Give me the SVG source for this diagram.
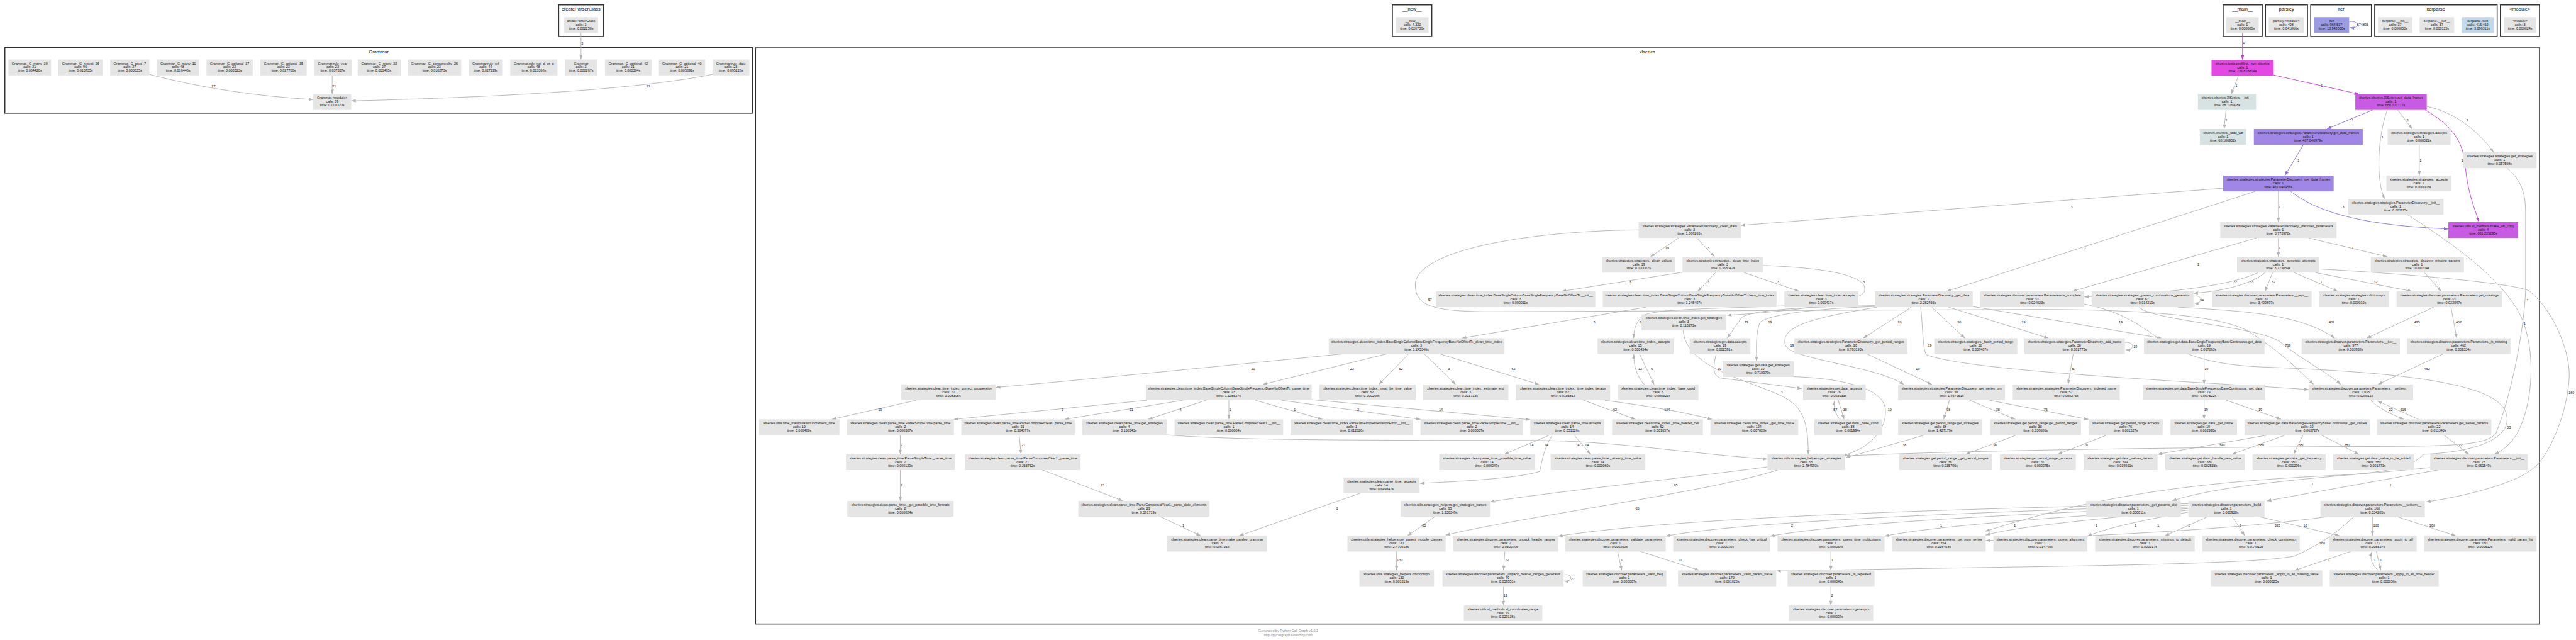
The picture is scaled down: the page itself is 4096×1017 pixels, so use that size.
<svg xmlns="http://www.w3.org/2000/svg" width="4096" height="1017" viewBox="0 0 4096 1017">
<defs>
<style>
text{font-family:"Liberation Sans",Arial,sans-serif}
.t{font-size:10.6px;fill:#111;text-anchor:middle}
.ct{font-size:14.6px;fill:#111;text-anchor:middle}
.cl{fill:#fff;stroke:#333;stroke-width:3}
.n{fill:#e5e5e5}
.m1{fill:#e447e4}
.m2{fill:#c95ae4}
.p{fill:#a086e6}
.b1{fill:#d7e2e3}
.b2{fill:#c3d9e9}
.it{fill:#9b9be3}
.e{fill:none;stroke:#b3b3b3;stroke-width:1.8;marker-end:url(#ag)}
.em{stroke:#c040c8;marker-end:url(#am)}
.ep{stroke:#8d6fd3;marker-end:url(#ap)}
.ei{stroke:#8585cc;marker-end:url(#ai)}
.el{font-size:10.6px;fill:#111;text-anchor:middle}
.ft{font-size:10.6px;fill:#8c8c8c;text-anchor:middle}
</style>
<marker id="ag" viewBox="0 0 14 10" refX="14" refY="5" markerWidth="14" markerHeight="10" markerUnits="userSpaceOnUse" orient="auto"><path d="M0,0L14,5L0,10z" fill="#b3b3b3"/></marker>
<marker id="am" viewBox="0 0 14 10" refX="14" refY="5" markerWidth="14" markerHeight="10" markerUnits="userSpaceOnUse" orient="auto"><path d="M0,0L14,5L0,10z" fill="#c040c8"/></marker>
<marker id="ap" viewBox="0 0 14 10" refX="14" refY="5" markerWidth="14" markerHeight="10" markerUnits="userSpaceOnUse" orient="auto"><path d="M0,0L14,5L0,10z" fill="#8d6fd3"/></marker>
<marker id="ai" viewBox="0 0 14 10" refX="14" refY="5" markerWidth="14" markerHeight="10" markerUnits="userSpaceOnUse" orient="auto"><path d="M0,0L14,5L0,10z" fill="#8585cc"/></marker>
</defs>
<rect width="4096" height="1017" fill="#fff"/>
<g transform="scale(0.51380)">
<g id="clusters">
<rect class="cl" x="1729" y="15" width="139" height="98"/><text class="ct" x="1798" y="33">createParserClass</text>
<rect class="cl" x="15" y="147" width="2314" height="203"/><text class="ct" x="1172" y="164.5">Grammar</text>
<rect class="cl" x="4309" y="15" width="122" height="98"/><text class="ct" x="4370" y="33">__new__</text>
<rect class="cl" x="6880" y="15" width="121" height="98"/><text class="ct" x="6940" y="33">__main__</text>
<rect class="cl" x="7011" y="15" width="130" height="98"/><text class="ct" x="7076" y="33">parsley</text>
<rect class="cl" x="7151" y="15" width="188" height="98"/><text class="ct" x="7245" y="33">iter</text>
<rect class="cl" x="7349" y="15" width="379" height="98"/><text class="ct" x="7538" y="33">iterparse</text>
<rect class="cl" x="7738" y="15" width="121" height="98"/><text class="ct" x="7798" y="33">&lt;module&gt;</text>
<rect class="cl" x="2338" y="148" width="5521" height="1782"/><text class="ct" x="5098" y="165">xlseries</text>
</g>
<g id="edges">
<path class="e" d="M1798,102L1798,184"/><text class="el" x="1802" y="138">3</text>
<path class="e" d="M462,230Q700,292 969,308"/><text class="el" x="661" y="270">27</text>
<path class="e" d="M1028,233L1028,291"/><text class="el" x="1034" y="270">21</text>
<path class="e" d="M2205,230Q1900,292 1087,312"/><text class="el" x="2006" y="270">21</text>
<path class="e em" d="M6940,102L6940,185"/><text class="el" x="6944" y="137">1</text>
<path class="e ei" d="M7270,67C7302,62 7306,90 7272,85"/><text class="el" x="7312" y="80">674893</text>
<path class="e" d="M6928,233L6905,291"/><text class="el" x="6921" y="269">1</text>
<path class="e em" d="M7036,232L7300,291"/><text class="el" x="7185" y="268">1</text>
<path class="e" d="M6889,340L6883,399"/><text class="el" x="6890" y="376">1</text>
<path class="e ep" d="M7343,340L7201,399"/><text class="el" x="7281" y="376">1</text>
<path class="e" d="M7420,340L7465,399"/><text class="el" x="7452" y="376">1</text>
<path class="e" d="M7510,329C7610,350 7680,420 7717,471"/><text class="el" x="7636" y="376">1</text>
<path class="e" d="M7388,340C7358,420 7352,560 7380,615"/><text class="el" x="7373" y="429">1</text>
<path class="e em" d="M7505,340C7610,400 7625,460 7630,520C7638,600 7660,650 7672,687"/><text class="el" x="7620" y="501">1</text>
<path class="e ep" d="M7128,448L7071,543"/><text class="el" x="7113" y="501">1</text>
<path class="e" d="M7487,448L7487,543"/><text class="el" x="7491" y="501">1</text>
<path class="e" d="M7051,592L7051,687"/><text class="el" x="7055" y="645">1</text>
<path class="e ep" d="M7089,592C7200,680 7400,700 7577,708"/><text class="el" x="7252" y="645">3</text>
<path class="e" d="M6880,582L5387,697"/><text class="el" x="6411" y="645">3</text>
<path class="e" d="M6979,592L6024,901"/><text class="el" x="6453" y="770">1</text>
<path class="e" d="M7759,520C7805,560 7816,600 7816,660L7816,900C7812,1000 7780,1200 7724,1341C7690,1378 7600,1381 7250,1381C6600,1385 6000,1396 5711,1410"/><text class="el" x="7822" y="932">1</text>
<path class="e" d="M7451,664C7600,760 7740,860 7800,975C7850,1080 7840,1250 7790,1340C7770,1375 7745,1392 7720,1405"/><text class="el" x="7813" y="1004">1</text>
<path class="e" d="M7051,736L7051,794"/><text class="el" x="7055" y="771">1</text>
<path class="e" d="M7145,736L7388,794"/><text class="el" x="7281" y="771">1</text>
<path class="e" d="M6983,736L6413,901"/><text class="el" x="6803" y="822">1</text>
<path class="e" d="M6988,843C6900,885 6700,908 6450,918"/><text class="el" x="6917" y="875">32</text>
<path class="e" d="M7010,843C6960,885 6860,902 6788,907"/><text class="el" x="6968" y="875">33</text>
<path class="e" d="M7033,843L7010,901"/><text class="el" x="7036" y="875">32</text>
<path class="e" d="M7100,843L7235,901"/><text class="el" x="7184" y="875">1</text>
<path class="e" d="M7165,843L7465,901"/><text class="el" x="7352" y="875">32</text>
<path class="e" d="M7178,832C7500,850 7780,878 7826,899C7905,960 7960,1100 7950,1180C7940,1300 7880,1420 7839,1449C7780,1500 7600,1540 7508,1552"/><text class="el" x="7958" y="1219">160</text>
<path class="e" d="M7503,843L7555,901"/><text class="el" x="7539" y="875">1</text>
<path class="e" d="M6788,916C6818,910 6818,942 6790,937"/><text class="el" x="6814" y="933">34</text>
<path class="e" d="M7531,950L7324,1046"/><text class="el" x="7480" y="1001">495</text>
<path class="e" d="M7585,950L7603,1046"/><text class="el" x="7609" y="1001">462</text>
<path class="e" d="M6740,950C6950,962 7120,972 7226,1046"/><text class="el" x="7216" y="1001">482</text>
<path class="e" d="M6620,950C6660,992 7000,1010 7060,1060C7120,1110 7200,1150 7244,1189"/><text class="el" x="7080" y="1073">769</text>
<path class="e" d="M7560,1095L7359,1189"/><text class="el" x="7511" y="1145">462</text>
<path class="e" d="M7337,1238C7360,1262 7400,1282 7440,1297"/><text class="el" x="7399" y="1271">22</text>
<path class="e" d="M7485,1297L7357,1240"/><text class="el" x="7437" y="1271">616</text>
<path class="e" d="M7564,1346L7641,1405"/><text class="el" x="7615" y="1379">22</text>
<path class="e" d="M7548,1453L7015,1549"/><text class="el" x="7398" y="1504">1</text>
<path class="e" d="M7521,1446C7300,1470 6900,1490 6722,1549"/><text class="el" x="7156" y="1500">1</text>
<path class="e" d="M6449,940C6700,990 6650,1120 7000,1135C7400,1150 7700,1180 7750,1265C7785,1330 7720,1395 7500,1405C7470,1440 7400,1460 7250,1469C6800,1490 6500,1530 6144,1643"/><text class="el" x="7764" y="1325">33</text>
<path class="e" d="M6772,1558C6000,1575 5200,1600 4822,1658"/><text class="el" x="5546" y="1630">2</text>
<path class="e" d="M6772,1563C6100,1585 5400,1612 5155,1658"/><text class="el" x="6007" y="1630">1</text>
<path class="e" d="M6772,1568C6200,1592 5700,1618 5478,1658"/><text class="el" x="6235" y="1630">1</text>
<path class="e" d="M6772,1573C6400,1598 6000,1624 5832,1658"/><text class="el" x="6488" y="1630">1</text>
<path class="e" d="M6772,1578C6550,1600 6250,1625 6145,1655"/><text class="el" x="6609" y="1630">1</text>
<path class="e" d="M6772,1584C6650,1605 6520,1632 6460,1658"/><text class="el" x="6679" y="1630">1</text>
<path class="e" d="M6835,1597L6700,1657"/><text class="el" x="6774" y="1630">1</text>
<path class="e" d="M6907,1597L6947,1657"/><text class="el" x="6933" y="1630">1</text>
<path class="e" d="M6988,1597L7240,1657"/><text class="el" x="7134" y="1630">10</text>
<path class="e" d="M7211,1597C6900,1640 6500,1655 6145,1672"/><text class="el" x="7048" y="1630">320</text>
<path class="e" d="M7286,1597C7230,1650 7170,1690 7100,1720C6950,1750 6200,1752 5497,1766"/><text class="el" x="7186" y="1684">160</text>
<path class="e" d="M7342,1597L7342,1657"/><text class="el" x="7353" y="1630">160</text>
<path class="e" d="M7415,1597L7600,1657"/><text class="el" x="7527" y="1630">160</text>
<path class="e" d="M7276,1705L7100,1765"/><text class="el" x="7207" y="1737">1</text>
<path class="e" d="M7354,1705L7368,1764"/><text class="el" x="7368" y="1737">1</text>
<path class="e" d="M7360,1764C7338,1745 7334,1725 7340,1707"/><text class="el" x="7349" y="1737">1</text>
<path class="e" d="M5006,1705L5019,1764"/><text class="el" x="5019" y="1737">1</text>
<path class="e" d="M5076,1705L5259,1764"/><text class="el" x="5199" y="1737">10</text>
<path class="e" d="M5666,1705L5666,1764"/><text class="el" x="5670" y="1737">1</text>
<path class="e" d="M5666,1813L5666,1872"/><text class="el" x="5670" y="1845">2</text>
<path class="e" d="M4657,1705L4653,1764"/><text class="el" x="4664" y="1737">22</text>
<path class="e" d="M4839,1778C4868,1772 4868,1802 4841,1797"/><text class="el" x="4867" y="1795">27</text>
<path class="e" d="M4653,1813L4653,1872"/><text class="el" x="4659" y="1845">19</text>
<path class="e" d="M4322,1705L4322,1764"/><text class="el" x="4332" y="1737">130</text>
<path class="e" d="M4442,1597L4356,1657"/><text class="el" x="4407" y="1630">65</text>
<path class="e" d="M5470,1444C5200,1480 4800,1522 4611,1552"/><text class="el" x="5186" y="1504">65</text>
<path class="e" d="M5503,1453C5300,1520 4700,1600 4474,1655"/><text class="el" x="5067" y="1576">65</text>
<path class="e" d="M4211,1525L3835,1657"/><text class="el" x="4139" y="1576">2</text>
<path class="e" d="M3589,1597L3716,1657"/><text class="el" x="3662" y="1630">1</text>
<path class="e" d="M3225,1453L3475,1549"/><text class="el" x="3413" y="1504">21</text>
<path class="e" d="M3154,1346L3160,1405"/><text class="el" x="3167" y="1379">21</text>
<path class="e" d="M2786,1346L2786,1405"/><text class="el" x="2790" y="1379">2</text>
<path class="e" d="M2786,1453L2786,1549"/><text class="el" x="2790" y="1504">2</text>
<path class="e" d="M2835,1238L2574,1297"/><text class="el" x="2724" y="1271">19</text>
<path class="e" d="M3550,1238L2952,1297"/><text class="el" x="3288" y="1271">2</text>
<path class="e" d="M3661,1238L3294,1297"/><text class="el" x="3501" y="1271">21</text>
<path class="e" d="M3732,1238L3553,1297"/><text class="el" x="3653" y="1271">4</text>
<path class="e" d="M3803,1238L3803,1297"/><text class="el" x="3807" y="1271">1</text>
<path class="e" d="M3885,1238L4093,1297"/><text class="el" x="4007" y="1271">1</text>
<path class="e" d="M3966,1238L4396,1297"/><text class="el" x="4203" y="1271">2</text>
<path class="e" d="M4059,1236L4736,1298"/><text class="el" x="4459" y="1271">14</text>
<path class="e" d="M3611,1345C3800,1360 4100,1362 4750,1362C5000,1364 5200,1400 5470,1420"/><text class="el" x="4885" y="1379">4</text>
<path class="e" d="M4795,1346L4655,1405"/><text class="el" x="4740" y="1379">14</text>
<path class="e" d="M4804,1346C4775,1390 4770,1440 4765,1458C4700,1480 4500,1490 4394,1495"/><text class="el" x="4786" y="1379">14</text>
<path class="e" d="M4872,1346L4922,1405"/><text class="el" x="4911" y="1379">14</text>
<path class="e" d="M4152,1095C3800,1130 3300,1180 3082,1198"/><text class="el" x="3878" y="1145">20</text>
<path class="e" d="M4290,1095L3908,1189"/><text class="el" x="4184" y="1145">23</text>
<path class="e" d="M4359,1095L4267,1189"/><text class="el" x="4335" y="1145">62</text>
<path class="e" d="M4408,1095L4505,1189"/><text class="el" x="4484" y="1145">3</text>
<path class="e" d="M4457,1095L4763,1189"/><text class="el" x="4684" y="1145">62</text>
<path class="e" d="M4901,1238L5062,1297"/><text class="el" x="4998" y="1271">62</text>
<path class="e" d="M4966,1238C5100,1256 5200,1272 5299,1297"/><text class="el" x="5159" y="1271">124</text>
<path class="e" d="M5074,1095L5119,1189"/><text class="el" x="5112" y="1145">6</text>
<path class="e" d="M5089,1189C5062,1160 5056,1125 5056,1095"/><text class="el" x="5076" y="1145">12</text>
<path class="e" d="M5094,950L4524,1046"/><text class="el" x="4934" y="1000">3</text>
<path class="e" d="M5522,946C5300,955 5100,955 5080,980C5062,1000 5056,1020 5056,1046"/><text class="el" x="5076" y="1000">3</text>
<path class="e" d="M5309,843L5254,901"/><text class="el" x="5287" y="875">3</text>
<path class="e" d="M5397,843L5568,901"/><text class="el" x="5503" y="875">3</text>
<path class="e" d="M5207,842L4833,901"/><text class="el" x="5045" y="875">3</text>
<path class="e" d="M5456,821C5700,830 5780,862 5770,900C5760,940 5500,966 5345,975"/><text class="el" x="5768" y="875">3</text>
<path class="e" d="M5195,736L5108,794"/><text class="el" x="5159" y="771">19</text>
<path class="e" d="M5251,736L5306,794"/><text class="el" x="5287" y="771">3</text>
<path class="e" d="M5071,711C4700,715 4380,780 4380,880C4380,945 4430,962 4600,964L6300,957C6600,957 6850,972 6950,1020C7050,1080 7120,1150 7160,1189"/><text class="el" x="4425" y="930">67</text>
<path class="e" d="M5802,945C5550,950 5420,960 5390,982L5345,1046"/><text class="el" x="5405" y="1000">19</text>
<path class="e" d="M5802,948C5600,955 5460,975 5445,1000C5432,1040 5436,1090 5436,1117"/><text class="el" x="5478" y="1000">19</text>
<path class="e" d="M5808,950C5600,985 5510,1010 5525,1067C5540,1112 5800,1130 5892,1189"/><text class="el" x="5546" y="1073">19</text>
<path class="e" d="M5915,950L5766,1046"/><text class="el" x="5879" y="1000">20</text>
<path class="e" d="M5978,950L6081,1046"/><text class="el" x="6063" y="1000">38</text>
<path class="e" d="M6030,950L6340,1046"/><text class="el" x="6262" y="1000">19</text>
<path class="e" d="M6105,948L6690,1046"/><text class="el" x="6563" y="1000">19</text>
<path class="e" d="M5944,950C5950,1000 5950,1080 5961,1097C6100,1150 6800,1180 7145,1205"/><text class="el" x="5972" y="1073">19</text>
<path class="e" d="M6576,1059C6606,1056 6608,1084 6579,1082"/><text class="el" x="6608" y="1077">19</text>
<path class="e" d="M6416,1095L6400,1189"/><text class="el" x="6418" y="1145">57</text>
<path class="e" d="M6821,1095L6821,1189"/><text class="el" x="6828" y="1145">19</text>
<path class="e" d="M5311,1095C5300,1140 5300,1165 5330,1170C5450,1185 5530,1195 5576,1202"/><text class="el" x="5321" y="1145">19</text>
<path class="e" d="M5551,1165C5700,1170 5830,1200 5835,1267C5840,1350 5750,1400 5702,1408"/><text class="el" x="5848" y="1271">19</text>
<path class="e" d="M5209,1021C5215,1120 5350,1160 5480,1210C5570,1245 5596,1280 5596,1405"/><text class="el" x="5514" y="1217">3</text>
<path class="e" d="M5689,1238L5707,1297"/><text class="el" x="5710" y="1271">38</text>
<path class="e" d="M5694,1297C5680,1280 5674,1262 5677,1240"/><text class="el" x="5680" y="1271">57</text>
<path class="e" d="M5778,1095L5979,1189"/><text class="el" x="5935" y="1145">19</text>
<path class="e" d="M6033,1238L6015,1297"/><text class="el" x="6030" y="1271">38</text>
<path class="e" d="M6096,1238L6237,1297"/><text class="el" x="6183" y="1271">38</text>
<path class="e" d="M6157,1238L6463,1297"/><text class="el" x="6331" y="1271">76</text>
<path class="e" d="M5954,1346L5712,1416"/><text class="el" x="5894" y="1379">38</text>
<path class="e" d="M6239,1346L6083,1405"/><text class="el" x="6173" y="1379">38</text>
<path class="e" d="M6519,1346L6368,1405"/><text class="el" x="6456" y="1379">76</text>
<path class="e" d="M6821,1238L6821,1297"/><text class="el" x="6827" y="1271">19</text>
<path class="e" d="M6890,1238L7060,1297"/><text class="el" x="6995" y="1271">19</text>
<path class="e" d="M7015,1346L6677,1405"/><text class="el" x="6876" y="1379">399</text>
<path class="e" d="M7071,1346L6907,1405"/><text class="el" x="6998" y="1379">380</text>
<path class="e" d="M7127,1346L7098,1405"/><text class="el" x="7122" y="1379">380</text>
<path class="e" d="M7185,1346L7300,1405"/><text class="el" x="7263" y="1379">380</text>
</g>
<g id="n_createParserClass"><rect class="n" x="1746" y="53" width="105" height="49"/><text class="t"><tspan x="1798.5" y="68.5">createParserClass</tspan><tspan x="1798.5" y="80">calls: 3</tspan><tspan x="1798.5" y="91.5">time: 0.002250s</tspan></text></g>
<g id="n_new"><rect class="n" x="4320" y="53" width="101" height="49"/><text class="t"><tspan x="4370.5" y="68.5">__new__</tspan><tspan x="4370.5" y="80">calls: 4,320</tspan><tspan x="4370.5" y="91.5">time: 0.020736s</tspan></text></g>
<g id="n_main"><rect class="n" x="6890" y="53" width="100" height="49"/><text class="t"><tspan x="6940" y="68.5">__main__</tspan><tspan x="6940" y="80">calls: 1</tspan><tspan x="6940" y="91.5">time: 0.000000s</tspan></text></g>
<g id="n_parsley"><rect class="n" x="7021" y="53" width="109" height="49"/><text class="t"><tspan x="7075.5" y="68.5">parsley.&lt;module&gt;</tspan><tspan x="7075.5" y="80">calls: 408</tspan><tspan x="7075.5" y="91.5">time: 0.041866s</tspan></text></g>
<g id="n_iter"><rect class="it" x="7162" y="53" width="108" height="49"/><text class="t"><tspan x="7216" y="68.5">iter</tspan><tspan x="7216" y="80">calls: 964,537</tspan><tspan x="7216" y="91.5">time: 18.942060s</tspan></text></g>
<g id="n_iterparse_init"><rect class="n" x="7359" y="53" width="107" height="49"/><text class="t"><tspan x="7412.5" y="68.5">iterparse.__init__</tspan><tspan x="7412.5" y="80">calls: 37</tspan><tspan x="7412.5" y="91.5">time: 0.000850s</tspan></text></g>
<g id="n_iterparse_iter"><rect class="n" x="7488" y="53" width="107" height="49"/><text class="t"><tspan x="7541.5" y="68.5">iterparse.__iter__</tspan><tspan x="7541.5" y="80">calls: 37</tspan><tspan x="7541.5" y="91.5">time: 0.000115s</tspan></text></g>
<g id="n_iterparse_next"><rect class="b2" x="7618" y="53" width="100" height="49"/><text class="t"><tspan x="7668" y="68.5">iterparse.next</tspan><tspan x="7668" y="80">calls: 416,462</tspan><tspan x="7668" y="91.5">time: 3.696311s</tspan></text></g>
<g id="n_module"><rect class="n" x="7749" y="53" width="100" height="49"/><text class="t"><tspan x="7799" y="68.5">&lt;module&gt;</tspan><tspan x="7799" y="80">calls: 3</tspan><tspan x="7799" y="91.5">time: 0.000024s</tspan></text></g>
<g id="g1"><rect class="n" x="26" y="184" width="132" height="49"/><text class="t"><tspan x="92" y="199.5">Grammar._G_many_30</tspan><tspan x="92" y="211">calls: 21</tspan><tspan x="92" y="222.5">time: 0.004420s</tspan></text></g>
<g id="g2"><rect class="n" x="181" y="184" width="137" height="49"/><text class="t"><tspan x="249.5" y="199.5">Grammar._G_repeat_26</tspan><tspan x="249.5" y="211">calls: 90</tspan><tspan x="249.5" y="222.5">time: 0.013735s</tspan></text></g>
<g id="g3"><rect class="n" x="341" y="184" width="121" height="49"/><text class="t"><tspan x="401.5" y="199.5">Grammar._G_pred_7</tspan><tspan x="401.5" y="211">calls: 27</tspan><tspan x="401.5" y="222.5">time: 0.003035s</tspan></text></g>
<g id="g4"><rect class="n" x="485" y="184" width="132" height="49"/><text class="t"><tspan x="551" y="199.5">Grammar._G_many_11</tspan><tspan x="551" y="211">calls: 48</tspan><tspan x="551" y="222.5">time: 0.016446s</tspan></text></g>
<g id="g5"><rect class="n" x="639" y="184" width="143" height="49"/><text class="t"><tspan x="710.5" y="199.5">Grammar._G_optional_37</tspan><tspan x="710.5" y="211">calls: 23</tspan><tspan x="710.5" y="222.5">time: 0.000323s</tspan></text></g>
<g id="g6"><rect class="n" x="806" y="184" width="143" height="49"/><text class="t"><tspan x="877.5" y="199.5">Grammar._G_optional_35</tspan><tspan x="877.5" y="211">calls: 23</tspan><tspan x="877.5" y="222.5">time: 0.027700s</tspan></text></g>
<g id="g7"><rect class="n" x="971" y="184" width="117" height="49"/><text class="t"><tspan x="1029.5" y="199.5">Grammar.rule_year</tspan><tspan x="1029.5" y="211">calls: 23</tspan><tspan x="1029.5" y="222.5">time: 0.037327s</tspan></text></g>
<g id="g8"><rect class="n" x="1107" y="184" width="133" height="49"/><text class="t"><tspan x="1173.5" y="199.5">Grammar._G_many_22</tspan><tspan x="1173.5" y="211">calls: 27</tspan><tspan x="1173.5" y="222.5">time: 0.001465s</tspan></text></g>
<g id="g9"><rect class="n" x="1262" y="184" width="165" height="49"/><text class="t"><tspan x="1344.5" y="199.5">Grammar._G_consumedby_25</tspan><tspan x="1344.5" y="211">calls: 23</tspan><tspan x="1344.5" y="222.5">time: 0.018273s</tspan></text></g>
<g id="g10"><rect class="n" x="1450" y="184" width="106" height="49"/><text class="t"><tspan x="1503" y="199.5">Grammar.rule_ref</tspan><tspan x="1503" y="211">calls: 44</tspan><tspan x="1503" y="222.5">time: 0.027219s</tspan></text></g>
<g id="g11"><rect class="n" x="1579" y="184" width="146" height="49"/><text class="t"><tspan x="1652" y="199.5">Grammar.rule_not_d_or_p</tspan><tspan x="1652" y="211">calls: 48</tspan><tspan x="1652" y="222.5">time: 0.013368s</tspan></text></g>
<g id="g12"><rect class="n" x="1748" y="184" width="101" height="49"/><text class="t"><tspan x="1798.5" y="199.5">Grammar</tspan><tspan x="1798.5" y="211">calls: 3</tspan><tspan x="1798.5" y="222.5">time: 0.000267s</tspan></text></g>
<g id="g13"><rect class="n" x="1872" y="184" width="144" height="49"/><text class="t"><tspan x="1944" y="199.5">Grammar._G_optional_42</tspan><tspan x="1944" y="211">calls: 21</tspan><tspan x="1944" y="222.5">time: 0.000304s</tspan></text></g>
<g id="g14"><rect class="n" x="2039" y="184" width="143" height="49"/><text class="t"><tspan x="2110.5" y="199.5">Grammar._G_optional_40</tspan><tspan x="2110.5" y="211">calls: 21</tspan><tspan x="2110.5" y="222.5">time: 0.005891s</tspan></text></g>
<g id="g15"><rect class="n" x="2205" y="184" width="114" height="49"/><text class="t"><tspan x="2262" y="199.5">Grammar.rule_date</tspan><tspan x="2262" y="211">calls: 23</tspan><tspan x="2262" y="222.5">time: 0.095128s</tspan></text></g>
<g id="g16"><rect class="n" x="969" y="291" width="118" height="49"/><text class="t"><tspan x="1028" y="306.5">Grammar.&lt;module&gt;</tspan><tspan x="1028" y="318">calls: 69</tspan><tspan x="1028" y="329.5">time: 0.000320s</tspan></text></g>
<g id="x1"><rect class="m1" x="6844" y="185" width="192" height="49"/><text class="t"><tspan x="6940" y="200.5">xlseries.tests.profiling._run_xlseries</tspan><tspan x="6940" y="212">calls: 1</tspan><tspan x="6940" y="223.5">time: 736.878804s</tspan></text></g>
<g id="x2"><rect class="b1" x="6802" y="291" width="180" height="49"/><text class="t"><tspan x="6892" y="306.5">xlseries.xlseries.XlSeries.__init__</tspan><tspan x="6892" y="318">calls: 1</tspan><tspan x="6892" y="329.5">time: 68.106978s</tspan></text></g>
<g id="x3"><rect class="m2" x="7289" y="291" width="221" height="49"/><text class="t"><tspan x="7399.5" y="306.5">xlseries.xlseries.XlSeries.get_data_frames</tspan><tspan x="7399.5" y="318">calls: 1</tspan><tspan x="7399.5" y="329.5">time: 668.771777s</tspan></text></g>
<g id="x4"><rect class="b1" x="6808" y="399" width="144" height="49"/><text class="t"><tspan x="6880" y="414.5">xlseries.xlseries._load_wb</tspan><tspan x="6880" y="426">calls: 1</tspan><tspan x="6880" y="437.5">time: 68.106952s</tspan></text></g>
<g id="x5"><rect class="p" x="6975" y="399" width="337" height="49"/><text class="t"><tspan x="7143.5" y="414.5">xlseries.strategies.strategies.ParameterDiscovery.get_data_frames</tspan><tspan x="7143.5" y="426">calls: 1</tspan><tspan x="7143.5" y="437.5">time: 467.046979s</tspan></text></g>
<g id="x6"><rect class="n" x="7389" y="399" width="195" height="49"/><text class="t"><tspan x="7486.5" y="414.5">xlseries.strategies.strategies.accepts</tspan><tspan x="7486.5" y="426">calls: 1</tspan><tspan x="7486.5" y="437.5">time: 0.000022s</tspan></text></g>
<g id="x7"><rect class="n" x="7622" y="471" width="228" height="49"/><text class="t"><tspan x="7736" y="486.5">xlseries.strategies.strategies.get_strategies</tspan><tspan x="7736" y="498">calls: 1</tspan><tspan x="7736" y="509.5">time: 0.057598s</tspan></text></g>
<g id="x8"><rect class="n" x="7385" y="543" width="201" height="49"/><text class="t"><tspan x="7485.5" y="558.5">xlseries.strategies.strategies._accepts</tspan><tspan x="7485.5" y="570">calls: 1</tspan><tspan x="7485.5" y="581.5">time: 0.000003s</tspan></text></g>
<g id="x9"><rect class="p" x="6880" y="543" width="342" height="49"/><text class="t"><tspan x="7051" y="558.5">xlseries.strategies.strategies.ParameterDiscovery._get_data_frames</tspan><tspan x="7051" y="570">calls: 1</tspan><tspan x="7051" y="581.5">time: 467.046956s</tspan></text></g>
<g id="x10"><rect class="n" x="7267" y="615" width="295" height="49"/><text class="t"><tspan x="7414.5" y="630.5">xlseries.strategies.strategies.ParameterDiscovery.__init__</tspan><tspan x="7414.5" y="642">calls: 1</tspan><tspan x="7414.5" y="653.5">time: 0.061115s</tspan></text></g>
<g id="x11"><rect class="m2" x="7577" y="687" width="216" height="49"/><text class="t"><tspan x="7685" y="702.5">xlseries.utils.xl_methods.make_wb_copy</tspan><tspan x="7685" y="714">calls: 4</tspan><tspan x="7685" y="725.5">time: 661.229295s</tspan></text></g>
<g id="x12"><rect class="n" x="6871" y="687" width="360" height="49"/><text class="t"><tspan x="7051" y="702.5">xlseries.strategies.strategies.ParameterDiscovery._discover_parameters</tspan><tspan x="7051" y="714">calls: 1</tspan><tspan x="7051" y="725.5">time: 3.773978s</tspan></text></g>
<g id="x13"><rect class="n" x="5071" y="687" width="316" height="49"/><text class="t"><tspan x="5229" y="702.5">xlseries.strategies.strategies.ParameterDiscovery._clean_data</tspan><tspan x="5229" y="714">calls: 3</tspan><tspan x="5229" y="725.5">time: 1.366263s</tspan></text></g>
<g id="x14"><rect class="n" x="6923" y="794" width="255" height="49"/><text class="t"><tspan x="7050.5" y="809.5">xlseries.strategies.strategies._generate_attempts</tspan><tspan x="7050.5" y="821">calls: 1</tspan><tspan x="7050.5" y="832.5">time: 3.773039s</tspan></text></g>
<g id="x15"><rect class="n" x="7337" y="794" width="288" height="49"/><text class="t"><tspan x="7481" y="809.5">xlseries.strategies.strategies._discover_missing_params</tspan><tspan x="7481" y="821">calls: 1</tspan><tspan x="7481" y="832.5">time: 0.000704s</tspan></text></g>
<g id="x16"><rect class="n" x="4959" y="794" width="225" height="49"/><text class="t"><tspan x="5071.5" y="809.5">xlseries.strategies.strategies._clean_values</tspan><tspan x="5071.5" y="821">calls: 19</tspan><tspan x="5071.5" y="832.5">time: 0.000067s</tspan></text></g>
<g id="x17"><rect class="n" x="5207" y="794" width="249" height="49"/><text class="t"><tspan x="5331.5" y="809.5">xlseries.strategies.strategies._clean_time_index</tspan><tspan x="5331.5" y="821">calls: 3</tspan><tspan x="5331.5" y="832.5">time: 1.363042s</tspan></text></g>
<g id="x18"><rect class="n" x="4444" y="901" width="493" height="49"/><text class="t"><tspan x="4690.5" y="916.5">xlseries.strategies.clean.time_index.BaseSingleColumnBaseSingleFrequencyBaseNoOffsetTi.__init__</tspan><tspan x="4690.5" y="928">calls: 3</tspan><tspan x="4690.5" y="939.5">time: 0.000011s</tspan></text></g>
<g id="x19"><rect class="n" x="4960" y="901" width="538" height="49"/><text class="t"><tspan x="5229" y="916.5">xlseries.strategies.clean.time_index.BaseSingleColumnBaseSingleFrequencyBaseNoOffsetTi.clean_time_index</tspan><tspan x="5229" y="928">calls: 3</tspan><tspan x="5229" y="939.5">time: 1.245407s</tspan></text></g>
<g id="x20"><rect class="n" x="5522" y="901" width="229" height="49"/><text class="t"><tspan x="5636.5" y="916.5">xlseries.strategies.clean.time_index.accepts</tspan><tspan x="5636.5" y="928">calls: 3</tspan><tspan x="5636.5" y="939.5">time: 0.000417s</tspan></text></g>
<g id="x21"><rect class="n" x="5802" y="901" width="303" height="49"/><text class="t"><tspan x="5953.5" y="916.5">xlseries.strategies.strategies.ParameterDiscovery._get_data</tspan><tspan x="5953.5" y="928">calls: 1</tspan><tspan x="5953.5" y="939.5">time: 2.282466s</tspan></text></g>
<g id="x22"><rect class="n" x="6129" y="901" width="321" height="49"/><text class="t"><tspan x="6289.5" y="916.5">xlseries.strategies.discover.parameters.Parameters.is_complete</tspan><tspan x="6289.5" y="928">calls: 33</tspan><tspan x="6289.5" y="939.5">time: 0.024023s</tspan></text></g>
<g id="x23"><rect class="n" x="6473" y="901" width="315" height="49"/><text class="t"><tspan x="6630.5" y="916.5">xlseries.strategies.strategies._param_combinations_generator</tspan><tspan x="6630.5" y="928">calls: 67</tspan><tspan x="6630.5" y="939.5">time: 0.014210s</tspan></text></g>
<g id="x24"><rect class="n" x="6846" y="901" width="308" height="49"/><text class="t"><tspan x="7000" y="916.5">xlseries.strategies.discover.parameters.Parameters.__repr__</tspan><tspan x="7000" y="928">calls: 32</tspan><tspan x="7000" y="939.5">time: 3.499697s</tspan></text></g>
<g id="x25"><rect class="n" x="7176" y="901" width="218" height="49"/><text class="t"><tspan x="7285" y="916.5">xlseries.strategies.strategies.&lt;dictcomp&gt;</tspan><tspan x="7285" y="928">calls: 1</tspan><tspan x="7285" y="939.5">time: 0.000010s</tspan></text></g>
<g id="x26"><rect class="n" x="7417" y="901" width="326" height="49"/><text class="t"><tspan x="7580" y="916.5">xlseries.strategies.discover.parameters.Parameters.get_missings</tspan><tspan x="7580" y="928">calls: 33</tspan><tspan x="7580" y="939.5">time: 0.022997s</tspan></text></g>
<g id="x27"><rect class="n" x="5080" y="972" width="262" height="49"/><text class="t"><tspan x="5211" y="987.5">xlseries.strategies.clean.time_index.get_strategies</tspan><tspan x="5211" y="999">calls: 3</tspan><tspan x="5211" y="1010.5">time: 0.116971s</tspan></text></g>
<g id="x28"><rect class="n" x="4112" y="1046" width="544" height="49"/><text class="t"><tspan x="4384" y="1061.5">xlseries.strategies.clean.time_index.BaseSingleColumnBaseSingleFrequencyBaseNoOffsetTi._clean_time_index</tspan><tspan x="4384" y="1073">calls: 3</tspan><tspan x="4384" y="1084.5">time: 1.245346s</tspan></text></g>
<g id="x29"><rect class="n" x="4944" y="1046" width="235" height="49"/><text class="t"><tspan x="5061.5" y="1061.5">xlseries.strategies.clean.time_index._accepts</tspan><tspan x="5061.5" y="1073">calls: 15</tspan><tspan x="5061.5" y="1084.5">time: 0.000454s</tspan></text></g>
<g id="x30"><rect class="n" x="5229" y="1046" width="188" height="49"/><text class="t"><tspan x="5323" y="1061.5">xlseries.strategies.get.data.accepts</tspan><tspan x="5323" y="1073">calls: 19</tspan><tspan x="5323" y="1084.5">time: 0.002591s</tspan></text></g>
<g id="x31"><rect class="n" x="5553" y="1046" width="350" height="49"/><text class="t"><tspan x="5728" y="1061.5">xlseries.strategies.strategies.ParameterDiscovery._get_period_ranges</tspan><tspan x="5728" y="1073">calls: 20</tspan><tspan x="5728" y="1084.5">time: 0.703193s</tspan></text></g>
<g id="x32"><rect class="n" x="5986" y="1046" width="257" height="49"/><text class="t"><tspan x="6114.5" y="1061.5">xlseries.strategies.strategies._hash_period_range</tspan><tspan x="6114.5" y="1073">calls: 38</tspan><tspan x="6114.5" y="1084.5">time: 0.007407s</tspan></text></g>
<g id="x33"><rect class="n" x="6265" y="1046" width="311" height="49"/><text class="t"><tspan x="6420.5" y="1061.5">xlseries.strategies.strategies.ParameterDiscovery._add_name</tspan><tspan x="6420.5" y="1073">calls: 38</tspan><tspan x="6420.5" y="1084.5">time: 0.002775s</tspan></text></g>
<g id="x34"><rect class="n" x="6635" y="1046" width="373" height="49"/><text class="t"><tspan x="6821.5" y="1061.5">xlseries.strategies.get.data.BaseSingleFrequencyBaseContinuous.get_data</tspan><tspan x="6821.5" y="1073">calls: 19</tspan><tspan x="6821.5" y="1084.5">time: 0.067863s</tspan></text></g>
<g id="x35"><rect class="n" x="7123" y="1046" width="304" height="49"/><text class="t"><tspan x="7275" y="1061.5">xlseries.strategies.discover.parameters.Parameters.__iter__</tspan><tspan x="7275" y="1073">calls: 977</tspan><tspan x="7275" y="1084.5">time: 0.003938s</tspan></text></g>
<g id="x36"><rect class="n" x="7449" y="1046" width="320" height="49"/><text class="t"><tspan x="7609" y="1061.5">xlseries.strategies.discover.parameters.Parameters._is_missing</tspan><tspan x="7609" y="1073">calls: 462</tspan><tspan x="7609" y="1084.5">time: 0.009334s</tspan></text></g>
<g id="x37"><rect class="n" x="5331" y="1117" width="220" height="49"/><text class="t"><tspan x="5441" y="1132.5">xlseries.strategies.get.data.get_strategies</tspan><tspan x="5441" y="1144">calls: 19</tspan><tspan x="5441" y="1155.5">time: 0.718979s</tspan></text></g>
<g id="x38"><rect class="n" x="2789" y="1189" width="293" height="49"/><text class="t"><tspan x="2935.5" y="1204.5">xlseries.strategies.clean.time_index._correct_progression</tspan><tspan x="2935.5" y="1216">calls: 20</tspan><tspan x="2935.5" y="1227.5">time: 0.008395s</tspan></text></g>
<g id="x39"><rect class="n" x="3546" y="1189" width="513" height="49"/><text class="t"><tspan x="3802.5" y="1204.5">xlseries.strategies.clean.time_index.BaseSingleColumnBaseSingleFrequencyBaseNoOffsetTi._parse_time</tspan><tspan x="3802.5" y="1216">calls: 23</tspan><tspan x="3802.5" y="1227.5">time: 1.198527s</tspan></text></g>
<g id="x40"><rect class="n" x="4083" y="1189" width="298" height="49"/><text class="t"><tspan x="4232" y="1204.5">xlseries.strategies.clean.time_index._must_be_time_value</tspan><tspan x="4232" y="1216">calls: 62</tspan><tspan x="4232" y="1227.5">time: 0.000269s</tspan></text></g>
<g id="x41"><rect class="n" x="4404" y="1189" width="264" height="49"/><text class="t"><tspan x="4536" y="1204.5">xlseries.strategies.clean.time_index._estimate_end</tspan><tspan x="4536" y="1216">calls: 3</tspan><tspan x="4536" y="1227.5">time: 0.003733s</tspan></text></g>
<g id="x42"><rect class="n" x="4691" y="1189" width="292" height="49"/><text class="t"><tspan x="4837" y="1204.5">xlseries.strategies.clean.time_index._time_index_iterator</tspan><tspan x="4837" y="1216">calls: 62</tspan><tspan x="4837" y="1227.5">time: 0.018381s</tspan></text></g>
<g id="x43"><rect class="n" x="5007" y="1189" width="249" height="49"/><text class="t"><tspan x="5131.5" y="1204.5">xlseries.strategies.clean.time_index._base_cond</tspan><tspan x="5131.5" y="1216">calls: 6</tspan><tspan x="5131.5" y="1227.5">time: 0.000321s</tspan></text></g>
<g id="x44"><rect class="n" x="5580" y="1189" width="194" height="49"/><text class="t"><tspan x="5677" y="1204.5">xlseries.strategies.get.data._accepts</tspan><tspan x="5677" y="1216">calls: 76</tspan><tspan x="5677" y="1227.5">time: 0.003033s</tspan></text></g>
<g id="x45"><rect class="n" x="5874" y="1189" width="331" height="49"/><text class="t"><tspan x="6039.5" y="1204.5">xlseries.strategies.strategies.ParameterDiscovery._get_series_prs</tspan><tspan x="6039.5" y="1216">calls: 38</tspan><tspan x="6039.5" y="1227.5">time: 1.467951s</tspan></text></g>
<g id="x46"><rect class="n" x="6229" y="1189" width="331" height="49"/><text class="t"><tspan x="6394.5" y="1204.5">xlseries.strategies.strategies.ParameterDiscovery._indexed_name</tspan><tspan x="6394.5" y="1216">calls: 57</tspan><tspan x="6394.5" y="1227.5">time: 0.000276s</tspan></text></g>
<g id="x47"><rect class="n" x="6632" y="1189" width="378" height="49"/><text class="t"><tspan x="6821" y="1204.5">xlseries.strategies.get.data.BaseSingleFrequencyBaseContinuous._get_data</tspan><tspan x="6821" y="1216">calls: 19</tspan><tspan x="6821" y="1227.5">time: 0.067522s</tspan></text></g>
<g id="x48"><rect class="n" x="7145" y="1189" width="323" height="49"/><text class="t"><tspan x="7306.5" y="1204.5">xlseries.strategies.discover.parameters.Parameters.__getitem__</tspan><tspan x="7306.5" y="1216">calls: 1,933</tspan><tspan x="7306.5" y="1227.5">time: 0.020011s</tspan></text></g>
<g id="x49"><rect class="n" x="2349" y="1297" width="249" height="49"/><text class="t"><tspan x="2473.5" y="1312.5">xlseries.utils.time_manipulation.increment_time</tspan><tspan x="2473.5" y="1324">calls: 19</tspan><tspan x="2473.5" y="1335.5">time: 0.006480s</tspan></text></g>
<g id="x50"><rect class="n" x="2621" y="1297" width="331" height="49"/><text class="t"><tspan x="2786.5" y="1312.5">xlseries.strategies.clean.parse_time.ParseSimpleTime.parse_time</tspan><tspan x="2786.5" y="1324">calls: 2</tspan><tspan x="2786.5" y="1335.5">time: 0.000307s</tspan></text></g>
<g id="x51"><rect class="n" x="2975" y="1297" width="351" height="49"/><text class="t"><tspan x="3150.5" y="1312.5">xlseries.strategies.clean.parse_time.ParseComposedYear1.parse_time</tspan><tspan x="3150.5" y="1324">calls: 21</tspan><tspan x="3150.5" y="1335.5">time: 0.364377s</tspan></text></g>
<g id="x52"><rect class="n" x="3349" y="1297" width="262" height="49"/><text class="t"><tspan x="3480" y="1312.5">xlseries.strategies.clean.parse_time.get_strategies</tspan><tspan x="3480" y="1324">calls: 4</tspan><tspan x="3480" y="1335.5">time: 0.168543s</tspan></text></g>
<g id="x53"><rect class="n" x="3635" y="1297" width="336" height="49"/><text class="t"><tspan x="3803" y="1312.5">xlseries.strategies.clean.parse_time.ParseComposedYear1.__init__</tspan><tspan x="3803" y="1324">calls: 1</tspan><tspan x="3803" y="1335.5">time: 0.000004s</tspan></text></g>
<g id="x54"><rect class="n" x="3994" y="1297" width="379" height="49"/><text class="t"><tspan x="4183.5" y="1312.5">xlseries.strategies.clean.time_index.ParseTimeImplementationError.__init__</tspan><tspan x="4183.5" y="1324">calls: 1</tspan><tspan x="4183.5" y="1335.5">time: 0.012826s</tspan></text></g>
<g id="x55"><rect class="n" x="4396" y="1297" width="317" height="49"/><text class="t"><tspan x="4554.5" y="1312.5">xlseries.strategies.clean.parse_time.ParseSimpleTime.__init__</tspan><tspan x="4554.5" y="1324">calls: 2</tspan><tspan x="4554.5" y="1335.5">time: 0.000007s</tspan></text></g>
<g id="x56"><rect class="n" x="4736" y="1297" width="229" height="49"/><text class="t"><tspan x="4850.5" y="1312.5">xlseries.strategies.clean.parse_time.accepts</tspan><tspan x="4850.5" y="1324">calls: 14</tspan><tspan x="4850.5" y="1335.5">time: 0.651326s</tspan></text></g>
<g id="x57"><rect class="n" x="4989" y="1297" width="281" height="49"/><text class="t"><tspan x="5129.5" y="1312.5">xlseries.strategies.clean.time_index._time_header_cell</tspan><tspan x="5129.5" y="1324">calls: 62</tspan><tspan x="5129.5" y="1335.5">time: 0.001657s</tspan></text></g>
<g id="x58"><rect class="n" x="5293" y="1297" width="272" height="49"/><text class="t"><tspan x="5429" y="1312.5">xlseries.strategies.clean.time_index._get_time_value</tspan><tspan x="5429" y="1324">calls: 124</tspan><tspan x="5429" y="1335.5">time: 0.007828s</tspan></text></g>
<g id="x59"><rect class="n" x="5615" y="1297" width="209" height="49"/><text class="t"><tspan x="5719.5" y="1312.5">xlseries.strategies.get.data._base_cond</tspan><tspan x="5719.5" y="1324">calls: 38</tspan><tspan x="5719.5" y="1335.5">time: 0.001994s</tspan></text></g>
<g id="x60"><rect class="n" x="5874" y="1297" width="261" height="49"/><text class="t"><tspan x="6004.5" y="1312.5">xlseries.strategies.get.period_range.get_strategies</tspan><tspan x="6004.5" y="1324">calls: 38</tspan><tspan x="6004.5" y="1335.5">time: 1.427179s</tspan></text></g>
<g id="x61"><rect class="n" x="6159" y="1297" width="281" height="49"/><text class="t"><tspan x="6299.5" y="1312.5">xlseries.strategies.get.period_range.get_period_ranges</tspan><tspan x="6299.5" y="1324">calls: 38</tspan><tspan x="6299.5" y="1335.5">time: 0.036606s</tspan></text></g>
<g id="x62"><rect class="n" x="6464" y="1297" width="229" height="49"/><text class="t"><tspan x="6578.5" y="1312.5">xlseries.strategies.get.period_range.accepts</tspan><tspan x="6578.5" y="1324">calls: 76</tspan><tspan x="6578.5" y="1335.5">time: 0.001527s</tspan></text></g>
<g id="x63"><rect class="n" x="6717" y="1297" width="206" height="49"/><text class="t"><tspan x="6820" y="1312.5">xlseries.strategies.get.data._get_name</tspan><tspan x="6820" y="1324">calls: 19</tspan><tspan x="6820" y="1335.5">time: 0.002996s</tspan></text></g>
<g id="x64"><rect class="n" x="6946" y="1297" width="388" height="49"/><text class="t"><tspan x="7140" y="1312.5">xlseries.strategies.get.data.BaseSingleFrequencyBaseContinuous._get_values</tspan><tspan x="7140" y="1324">calls: 19</tspan><tspan x="7140" y="1335.5">time: 0.063727s</tspan></text></g>
<g id="x65"><rect class="n" x="7356" y="1297" width="354" height="49"/><text class="t"><tspan x="7533" y="1312.5">xlseries.strategies.discover.parameters.Parameters.get_series_params</tspan><tspan x="7533" y="1324">calls: 22</tspan><tspan x="7533" y="1335.5">time: 0.011343s</tspan></text></g>
<g id="x66"><rect class="n" x="2618" y="1405" width="337" height="49"/><text class="t"><tspan x="2786.5" y="1420.5">xlseries.strategies.clean.parse_time.ParseSimpleTime._parse_time</tspan><tspan x="2786.5" y="1432">calls: 2</tspan><tspan x="2786.5" y="1443.5">time: 0.000120s</tspan></text></g>
<g id="x67"><rect class="n" x="2986" y="1405" width="358" height="49"/><text class="t"><tspan x="3165" y="1420.5">xlseries.strategies.clean.parse_time.ParseComposedYear1._parse_time</tspan><tspan x="3165" y="1432">calls: 21</tspan><tspan x="3165" y="1443.5">time: 0.363762s</tspan></text></g>
<g id="x68"><rect class="n" x="4454" y="1405" width="296" height="49"/><text class="t"><tspan x="4602" y="1420.5">xlseries.strategies.clean.parse_time._possible_time_value</tspan><tspan x="4602" y="1432">calls: 14</tspan><tspan x="4602" y="1443.5">time: 0.000047s</tspan></text></g>
<g id="x69"><rect class="n" x="4799" y="1405" width="293" height="49"/><text class="t"><tspan x="4945.5" y="1420.5">xlseries.strategies.clean.parse_time._already_time_value</tspan><tspan x="4945.5" y="1432">calls: 14</tspan><tspan x="4945.5" y="1443.5">time: 0.000060s</tspan></text></g>
<g id="x70"><rect class="n" x="5470" y="1405" width="240" height="49"/><text class="t"><tspan x="5590" y="1420.5">xlseries.utils.strategies_helpers.get_strategies</tspan><tspan x="5590" y="1432">calls: 65</tspan><tspan x="5590" y="1443.5">time: 2.484993s</tspan></text></g>
<g id="x71"><rect class="n" x="5877" y="1405" width="288" height="49"/><text class="t"><tspan x="6021" y="1420.5">xlseries.strategies.get.period_range._get_period_ranges</tspan><tspan x="6021" y="1432">calls: 38</tspan><tspan x="6021" y="1443.5">time: 0.035796s</tspan></text></g>
<g id="x72"><rect class="n" x="6189" y="1405" width="235" height="49"/><text class="t"><tspan x="6306.5" y="1420.5">xlseries.strategies.get.period_range._accepts</tspan><tspan x="6306.5" y="1432">calls: 76</tspan><tspan x="6306.5" y="1443.5">time: 0.000275s</tspan></text></g>
<g id="x73"><rect class="n" x="6448" y="1405" width="229" height="49"/><text class="t"><tspan x="6562.5" y="1420.5">xlseries.strategies.get.data._values_iterator</tspan><tspan x="6562.5" y="1432">calls: 399</tspan><tspan x="6562.5" y="1443.5">time: 0.019921s</tspan></text></g>
<g id="x74"><rect class="n" x="6701" y="1405" width="246" height="49"/><text class="t"><tspan x="6824" y="1420.5">xlseries.strategies.get.data._handle_new_value</tspan><tspan x="6824" y="1432">calls: 380</tspan><tspan x="6824" y="1443.5">time: 0.002533s</tspan></text></g>
<g id="x75"><rect class="n" x="6971" y="1405" width="226" height="49"/><text class="t"><tspan x="7084" y="1420.5">xlseries.strategies.get.data._get_frequency</tspan><tspan x="7084" y="1432">calls: 380</tspan><tspan x="7084" y="1443.5">time: 0.001296s</tspan></text></g>
<g id="x76"><rect class="n" x="7220" y="1405" width="251" height="49"/><text class="t"><tspan x="7345.5" y="1420.5">xlseries.strategies.get.data._value_to_be_added</tspan><tspan x="7345.5" y="1432">calls: 380</tspan><tspan x="7345.5" y="1443.5">time: 0.001471s</tspan></text></g>
<g id="x77"><rect class="n" x="7521" y="1405" width="302" height="49"/><text class="t"><tspan x="7672" y="1420.5">xlseries.strategies.discover.parameters.Parameters.__init__</tspan><tspan x="7672" y="1432">calls: 23</tspan><tspan x="7672" y="1443.5">time: 0.061549s</tspan></text></g>
<g id="x78"><rect class="n" x="4158" y="1477" width="235" height="49"/><text class="t"><tspan x="4275.5" y="1492.5">xlseries.strategies.clean.parse_time._accepts</tspan><tspan x="4275.5" y="1504">calls: 14</tspan><tspan x="4275.5" y="1515.5">time: 0.649847s</tspan></text></g>
<g id="x79"><rect class="n" x="2622" y="1549" width="329" height="49"/><text class="t"><tspan x="2786.5" y="1564.5">xlseries.strategies.clean.parse_time._get_possible_time_formats</tspan><tspan x="2786.5" y="1576">calls: 2</tspan><tspan x="2786.5" y="1587.5">time: 0.000024s</tspan></text></g>
<g id="x80"><rect class="n" x="3337" y="1549" width="406" height="49"/><text class="t"><tspan x="3540" y="1564.5">xlseries.strategies.clean.parse_time.ParseComposedYear1._parse_date_elements</tspan><tspan x="3540" y="1576">calls: 21</tspan><tspan x="3540" y="1587.5">time: 0.361719s</tspan></text></g>
<g id="x81"><rect class="n" x="4335" y="1549" width="276" height="49"/><text class="t"><tspan x="4473" y="1564.5">xlseries.utils.strategies_helpers.get_strategies_names</tspan><tspan x="4473" y="1576">calls: 65</tspan><tspan x="4473" y="1587.5">time: 1.236349s</tspan></text></g>
<g id="x82"><rect class="n" x="6456" y="1549" width="293" height="49"/><text class="t"><tspan x="6602.5" y="1564.5">xlseries.strategies.discover.parameters._get_params_dict</tspan><tspan x="6602.5" y="1576">calls: 1</tspan><tspan x="6602.5" y="1587.5">time: 0.000011s</tspan></text></g>
<g id="x83"><rect class="n" x="6772" y="1549" width="236" height="49"/><text class="t"><tspan x="6890" y="1564.5">xlseries.strategies.discover.parameters._build</tspan><tspan x="6890" y="1576">calls: 1</tspan><tspan x="6890" y="1587.5">time: 0.060928s</tspan></text></g>
<g id="x84"><rect class="n" x="7181" y="1549" width="323" height="49"/><text class="t"><tspan x="7342.5" y="1564.5">xlseries.strategies.discover.parameters.Parameters.__setitem__</tspan><tspan x="7342.5" y="1576">calls: 160</tspan><tspan x="7342.5" y="1587.5">time: 0.034285s</tspan></text></g>
<g id="x85"><rect class="n" x="3612" y="1657" width="309" height="49"/><text class="t"><tspan x="3766.5" y="1672.5">xlseries.strategies.clean.parse_time.make_parsley_grammar</tspan><tspan x="3766.5" y="1684">calls: 3</tspan><tspan x="3766.5" y="1695.5">time: 0.906725s</tspan></text></g>
<g id="x86"><rect class="n" x="4170" y="1657" width="304" height="49"/><text class="t"><tspan x="4322" y="1672.5">xlseries.utils.strategies_helpers.get_parent_module_classes</tspan><tspan x="4322" y="1684">calls: 130</tspan><tspan x="4322" y="1695.5">time: 2.479918s</tspan></text></g>
<g id="x87"><rect class="n" x="4498" y="1657" width="324" height="49"/><text class="t"><tspan x="4660" y="1672.5">xlseries.strategies.discover.parameters._unpack_header_ranges</tspan><tspan x="4660" y="1684">calls: 2</tspan><tspan x="4660" y="1695.5">time: 0.030279s</tspan></text></g>
<g id="x88"><rect class="n" x="4844" y="1657" width="311" height="49"/><text class="t"><tspan x="4999.5" y="1672.5">xlseries.strategies.discover.parameters._validate_parameters</tspan><tspan x="4999.5" y="1684">calls: 1</tspan><tspan x="4999.5" y="1695.5">time: 0.000269s</tspan></text></g>
<g id="x89"><rect class="n" x="5178" y="1657" width="300" height="49"/><text class="t"><tspan x="5328" y="1672.5">xlseries.strategies.discover.parameters._check_has_critical</tspan><tspan x="5328" y="1684">calls: 1</tspan><tspan x="5328" y="1695.5">time: 0.000016s</tspan></text></g>
<g id="x90"><rect class="n" x="5501" y="1657" width="331" height="49"/><text class="t"><tspan x="5666.5" y="1672.5">xlseries.strategies.discover.parameters._guess_time_multicolumn</tspan><tspan x="5666.5" y="1684">calls: 1</tspan><tspan x="5666.5" y="1695.5">time: 0.000064s</tspan></text></g>
<g id="x91"><rect class="n" x="5855" y="1657" width="290" height="49"/><text class="t"><tspan x="6000" y="1672.5">xlseries.strategies.discover.parameters._get_num_series</tspan><tspan x="6000" y="1684">calls: 354</tspan><tspan x="6000" y="1695.5">time: 0.016458s</tspan></text></g>
<g id="x92"><rect class="n" x="6169" y="1657" width="291" height="49"/><text class="t"><tspan x="6314.5" y="1672.5">xlseries.strategies.discover.parameters._guess_alignment</tspan><tspan x="6314.5" y="1684">calls: 1</tspan><tspan x="6314.5" y="1695.5">time: 0.014740s</tspan></text></g>
<g id="x93"><rect class="n" x="6484" y="1657" width="308" height="49"/><text class="t"><tspan x="6638" y="1672.5">xlseries.strategies.discover.parameters._missings_to_default</tspan><tspan x="6638" y="1684">calls: 1</tspan><tspan x="6638" y="1695.5">time: 0.000017s</tspan></text></g>
<g id="x94"><rect class="n" x="6816" y="1657" width="301" height="49"/><text class="t"><tspan x="6966.5" y="1672.5">xlseries.strategies.discover.parameters._check_consistency</tspan><tspan x="6966.5" y="1684">calls: 1</tspan><tspan x="6966.5" y="1695.5">time: 0.014819s</tspan></text></g>
<g id="x95"><rect class="n" x="7207" y="1657" width="272" height="49"/><text class="t"><tspan x="7343" y="1672.5">xlseries.strategies.discover.parameters._apply_to_all</tspan><tspan x="7343" y="1684">calls: 171</tspan><tspan x="7343" y="1695.5">time: 0.005527s</tspan></text></g>
<g id="x96"><rect class="n" x="7502" y="1657" width="348" height="49"/><text class="t"><tspan x="7676" y="1672.5">xlseries.strategies.discover.parameters.Parameters._valid_param_list</tspan><tspan x="7676" y="1684">calls: 160</tspan><tspan x="7676" y="1695.5">time: 0.000612s</tspan></text></g>
<g id="x97"><rect class="n" x="4207" y="1764" width="231" height="49"/><text class="t"><tspan x="4322.5" y="1779.5">xlseries.utils.strategies_helpers.&lt;dictcomp&gt;</tspan><tspan x="4322.5" y="1791">calls: 130</tspan><tspan x="4322.5" y="1802.5">time: 0.001319s</tspan></text></g>
<g id="x98"><rect class="n" x="4464" y="1764" width="375" height="49"/><text class="t"><tspan x="4651.5" y="1779.5">xlseries.strategies.discover.parameters._unpack_header_ranges_generator</tspan><tspan x="4651.5" y="1791">calls: 49</tspan><tspan x="4651.5" y="1802.5">time: 0.059551s</tspan></text></g>
<g id="x99"><rect class="n" x="4898" y="1764" width="259" height="49"/><text class="t"><tspan x="5027.5" y="1779.5">xlseries.strategies.discover.parameters._valid_freq</tspan><tspan x="5027.5" y="1791">calls: 1</tspan><tspan x="5027.5" y="1802.5">time: 0.000007s</tspan></text></g>
<g id="x100"><rect class="n" x="5193" y="1764" width="304" height="49"/><text class="t"><tspan x="5345" y="1779.5">xlseries.strategies.discover.parameters._valid_param_value</tspan><tspan x="5345" y="1791">calls: 170</tspan><tspan x="5345" y="1802.5">time: 0.001625s</tspan></text></g>
<g id="x101"><rect class="n" x="5532" y="1764" width="269" height="49"/><text class="t"><tspan x="5666.5" y="1779.5">xlseries.strategies.discover.parameters._is_repeated</tspan><tspan x="5666.5" y="1791">calls: 1</tspan><tspan x="5666.5" y="1802.5">time: 0.000040s</tspan></text></g>
<g id="x102"><rect class="n" x="6842" y="1764" width="345" height="49"/><text class="t"><tspan x="7014.5" y="1779.5">xlseries.strategies.discover.parameters._apply_to_all_missing_value</tspan><tspan x="7014.5" y="1791">calls: 1</tspan><tspan x="7014.5" y="1802.5">time: 0.000025s</tspan></text></g>
<g id="x103"><rect class="n" x="7210" y="1764" width="337" height="49"/><text class="t"><tspan x="7378.5" y="1779.5">xlseries.strategies.discover.parameters._apply_to_all_time_header</tspan><tspan x="7378.5" y="1791">calls: 1</tspan><tspan x="7378.5" y="1802.5">time: 0.000056s</tspan></text></g>
<g id="x104"><rect class="n" x="4530" y="1872" width="243" height="49"/><text class="t"><tspan x="4651.5" y="1887.5">xlseries.utils.xl_methods.xl_coordinates_range</tspan><tspan x="4651.5" y="1899">calls: 19</tspan><tspan x="4651.5" y="1910.5">time: 0.029136s</tspan></text></g>
<g id="x105"><rect class="n" x="5536" y="1872" width="261" height="49"/><text class="t"><tspan x="5666.5" y="1887.5">xlseries.strategies.discover.parameters.&lt;genexpr&gt;</tspan><tspan x="5666.5" y="1899">calls: 2</tspan><tspan x="5666.5" y="1910.5">time: 0.000007s</tspan></text></g>
<text class="ft" x="3987" y="1955">Generated by Python Call Graph v1.0.1</text>
<text class="ft" x="3987" y="1967">http://pycallgraph.slowchop.com</text>
</g>
</svg>
